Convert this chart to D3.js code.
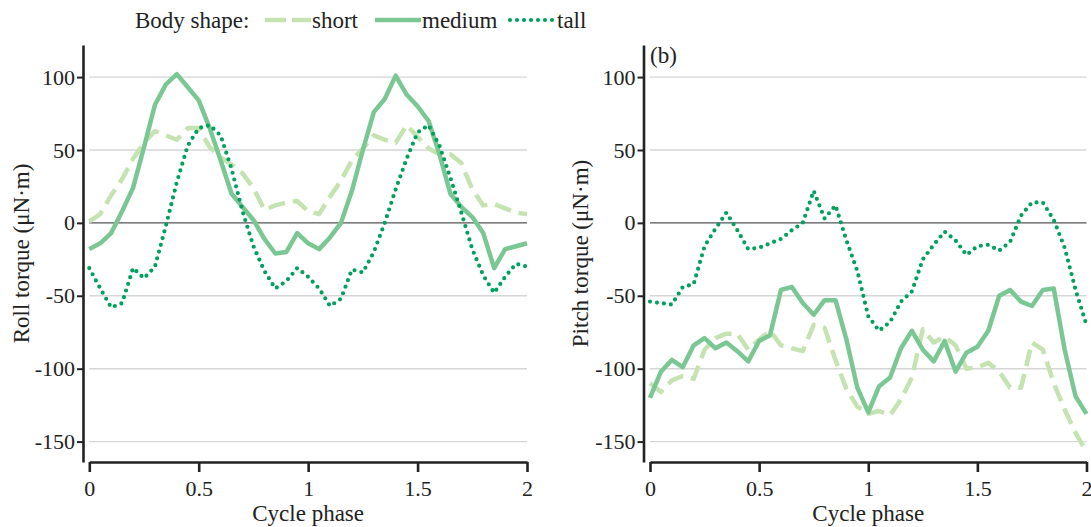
<!DOCTYPE html>
<html>
<head>
<meta charset="utf-8">
<script src="https://cdn.jsdelivr.net/npm/d3@7"></script>
<style>
  body { margin: 0; background: #fff; }
  svg { display: block; }
  text { font-family: "Liberation Serif", "Times New Roman", Times, serif; fill: #222; }
</style>
</head>
<body>
<div id="chart-area"></div>
<script>
// cycle phase samples (shared x for every series)
var phase = [0, 0.05, 0.1, 0.15, 0.2, 0.25, 0.3, 0.35, 0.4, 0.45,
	0.5, 0.55, 0.6, 0.65, 0.7, 0.75, 0.8, 0.85, 0.9, 0.95,
	1, 1.05, 1.1, 1.15, 1.2, 1.25, 1.3, 1.35, 1.4, 1.45,
	1.5, 1.55, 1.6, 1.65, 1.7, 1.75, 1.8, 1.85, 1.9, 1.95, 2]

// roll torque (uN.m)
var rollShort = [1, 6, 19, 30, 44, 55, 63, 60, 57, 65,
	65, 52, 45, 40, 34, 24, 9, 12, 14, 15,
	8, 6, 18, 29, 43, 51, 60, 57, 55, 67,
	59, 51, 47, 47, 41, 23, 12, 13, 10, 7, 6]
var rollMedium = [-18, -14, -7, 8, 24, 52, 81, 95, 102, 93,
	84, 65, 43, 20, 11, 2, -11, -21, -20, -7,
	-14, -18, -10, 0, 22, 50, 76, 85, 101, 88,
	80, 70, 47, 20, 11, 4, -7, -31, -18, -16, -14]
var rollTall = [-31, -45, -58, -55, -31, -38, -30, -2, 28, 53,
	65, 67, 60, 37, 8, -16, -33, -45, -40, -31,
	-37, -45, -57, -52, -32, -34, -20, 0, 23, 44,
	62, 67, 53, 31, 7, -18, -36, -48, -37, -28, -30]

// pitch torque (uN.m)
var pitchShort = [-110, -116, -108, -105, -107, -87, -79, -76, -76, -87,
	-80, -74, -84, -86, -88, -70, -72, -94, -114, -126,
	-131, -129, -132, -121, -106, -73, -82, -78, -84, -100,
	-99, -96, -102, -113, -113, -82, -87, -110, -128, -144, -157]
var pitchMedium = [-120, -102, -94, -99, -84, -79, -86, -82, -88, -95,
	-81, -77, -46, -44, -55, -63, -53, -53, -80, -113,
	-130, -112, -106, -86, -74, -87, -95, -81, -102, -89,
	-85, -74, -50, -46, -54, -57, -46, -45, -87, -119, -131]
var pitchTall = [-54, -55, -56, -44, -42, -16, -4, 7, -5, -18,
	-17, -14, -11, -5, 0, 22, 3, 12, -12, -33,
	-64, -74, -68, -54, -47, -25, -15, -6, -12, -22,
	-16, -15, -19, -13, 5, 14, 14, 2, -17, -46, -70]

var shapes = ["short", "medium", "tall"]
var xTicks = [0, 0.5, 1, 1.5, 2]
var yTicks = [-150, -100, -50, 0, 50, 100]

var styles = {
	short:  { color: "#c5e3b1", width: 4.5, dash: "17,8", cap: "butt" },
	medium: { color: "#7bc794", width: 4.5, dash: null, cap: "butt" },
	tall:   { color: "#00a05e", width: 4.2, dash: "0,7", cap: "round" }
}

var svg = d3.select("#chart-area")
	.append("svg")
		.attr("width", 1091)
		.attr("height", 527)

var y = d3.scaleLinear()
	.domain([-164, 122])
	.range([462, 45])

var panels = [
	{ x0: 89.3, x1: 527, axisX: 83, label: "Roll torque (\u03bcN\u00b7m)", labelX: 29,
		series: { short: rollShort, medium: rollMedium, tall: rollTall }, tag: null },
	{ x0: 650, x1: 1086.5, axisX: 643.5, label: "Pitch torque (\u03bcN\u00b7m)", labelX: 588,
		series: { short: pitchShort, medium: pitchMedium, tall: pitchTall }, tag: "(b)" }
]

panels.forEach(p => {
	var x = d3.scaleLinear().domain([0, 2]).range([p.x0, p.x1])
	var g = svg.append("g")

	// grid lines
	g.selectAll(".grid")
		.data(yTicks.filter(d => d !== 0))
		.enter().append("line")
			.attr("x1", p.x0).attr("x2", p.x1)
			.attr("y1", d => y(d)).attr("y2", d => y(d))
			.attr("stroke", "#d6d6d6")
			.attr("stroke-width", 1.4)
	g.append("line")
		.attr("x1", p.x0).attr("x2", p.x1)
		.attr("y1", y(0)).attr("y2", y(0))
		.attr("stroke", "#555")
		.attr("stroke-width", 1.3)

	// series
	var line = d3.line()
		.x((d, i) => x(phase[i]))
		.y(d => y(d))
	shapes.forEach(s => {
		var st = styles[s]
		g.append("path")
			.datum(p.series[s])
			.attr("d", line)
			.attr("fill", "none")
			.attr("stroke", st.color)
			.attr("stroke-width", st.width)
			.attr("stroke-dasharray", st.dash)
			.attr("stroke-linecap", st.cap)
			.attr("stroke-linejoin", "round")
	})

	// y axis
	var yAxis = g.append("g")
		.attr("transform", "translate(" + p.axisX + ",0)")
		.call(d3.axisLeft(y).tickValues(yTicks).tickSize(6).tickSizeOuter(0).tickPadding(2)
			.tickFormat(d => String(d)))
	yAxis.select(".domain").attr("stroke", "#222").attr("stroke-width", 2.6)
	yAxis.selectAll(".tick line").attr("stroke", "#222").attr("stroke-width", 2)
	yAxis.selectAll("text").attr("font-size", "22px").attr("fill", "#222")

	// x axis
	var xAxis = g.append("g")
		.attr("transform", "translate(0,462)")
		.call(d3.axisBottom(x).tickValues(xTicks).tickSize(10).tickSizeOuter(0).tickPadding(8)
			.tickFormat(d => String(d)))
	xAxis.select(".domain").attr("stroke", "#222").attr("stroke-width", 2.6)
	xAxis.selectAll(".tick line").attr("stroke", "#222").attr("stroke-width", 2.6)
	xAxis.selectAll("text").attr("font-size", "22px").attr("fill", "#222")

	// titles
	g.append("text")
		.attr("x", (p.x0 + p.x1) / 2)
		.attr("y", 521)
		.attr("text-anchor", "middle")
		.attr("font-size", "23px")
		.text("Cycle phase")
	g.append("text")
		.attr("transform", "translate(" + p.labelX + "," + ((y.range()[0] + y.range()[1]) / 2) + ") rotate(-90)")
		.attr("text-anchor", "middle")
		.attr("font-size", "23px")
		.text(p.label)
	if (p.tag) {
		g.append("text")
			.attr("x", p.x0)
			.attr("y", 63)
			.attr("font-size", "23px")
			.text(p.tag)
	}
})

// legend
var legend = svg.append("g").attr("transform", "translate(0,20)")
legend.append("text")
	.attr("x", 135).attr("y", 8)
	.attr("font-size", "23px")
	.text("Body shape:")
var legendPos = { short: 265, medium: 375, tall: 510 }
shapes.forEach(s => {
	var st = styles[s]
	legend.append("line")
		.attr("x1", legendPos[s]).attr("x2", legendPos[s] + 46)
		.attr("y1", 0).attr("y2", 0)
		.attr("stroke", st.color)
		.attr("stroke-width", st.width)
		.attr("stroke-dasharray", s === "short" ? "21,6" : st.dash)
		.attr("stroke-linecap", st.cap)
	legend.append("text")
		.attr("x", legendPos[s] + 47).attr("y", 8)
		.attr("font-size", "23px")
		.text(s)
})
</script>
</body>
</html>
